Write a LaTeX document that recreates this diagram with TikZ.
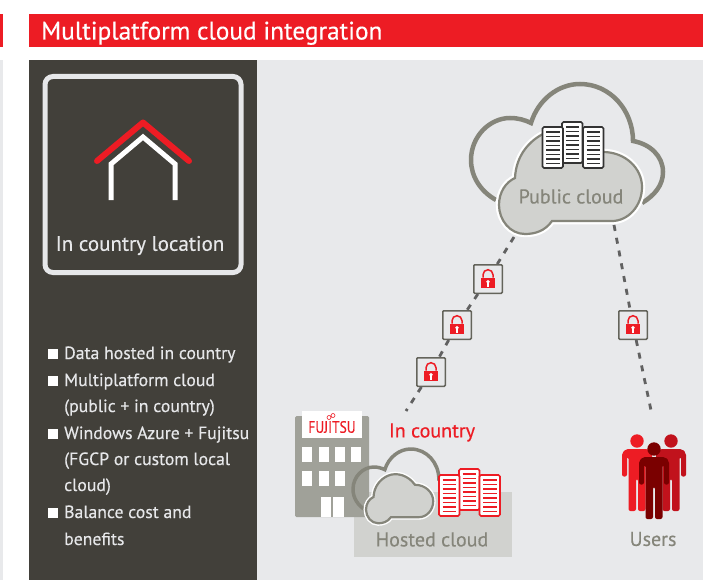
\documentclass[tikz,border=0pt]{standalone}
\usepackage{fontspec}
\setmainfont[FakeBold=0.35]{PT Sans}
\definecolor{fjred}{HTML}{ED1C24}
\definecolor{panel}{HTML}{42403A}
\definecolor{paper}{HTML}{E8E9EB}
\definecolor{stonefill}{HTML}{D1D2CF}
\definecolor{stoneline}{HTML}{85857A}
\definecolor{bldg}{HTML}{A0A199}
\definecolor{pale}{HTML}{E6E7E9}
\definecolor{darkred}{HTML}{7A0000}
\definecolor{midred}{HTML}{C1121C}
\newcommand{\outercloudpath}{(496,200) .. controls (480,191) and (471,176) .. (471,160) .. controls (471,136) and (490,118) .. (510,118) .. controls (518,118) and (525,120) .. (531,123) .. controls (538,100) and (558,84) .. (580,84) .. controls (610,84) and (633,110) .. (633,141) .. controls (650,144) and (663,156) .. (663,172) .. controls (663,185) and (655,195) .. (642,203)}
\newcommand{\innercloudpath}{(515,178) .. controls (516,155) and (530,140) .. (545,133) .. controls (565,124) and (590,133) .. (603,152) .. controls (625,152) and (642,168) .. (642,187) .. controls (642,206) and (628,221) .. (612,221) -- (552,221) .. controls (545,231) and (535,234) .. (525,234) .. controls (510,234) and (499,220) .. (499,205) .. controls (499,192) and (506,182) .. (515,178) -- cycle}
\tikzset{
  x=1pt,y=-1pt,
  label text/.style={inner sep=0pt,font=\fontsize{20}{24}\selectfont},
  bullet text/.style={inner sep=0pt,anchor=base west,text=pale,font=\fontsize{17.7}{22}\selectfont},
  bullet mark/.style={fill=white,draw=none,minimum size=9.5pt,inner sep=0pt},
  lock box/.style={draw=stoneline!75!black,line width=1.5pt,fill=paper,rounded corners=1pt,minimum size=28.5pt,inner sep=0pt},
  dash link/.style={draw=black!62,line width=2.8pt,dash pattern=on 6pt off 7pt},
  outer cloud/.style={draw=stoneline,line width=4.5pt,line cap=butt,fill=none},
  inner halo/.style={draw=white,line width=6.5pt,fill=white},
  inner cloud/.style={draw=stoneline,line width=2.2pt,fill=stonefill},
  lockglyph/.pic={
    \fill[fjred] (-7,-1.3) rectangle (7,9.3);
    \draw[fjred,line width=1.5pt] (-5,-1.3) -- (-5,-4.3) arc (180:360:5) -- (5,-1.3);
    \fill[white] (0,2.8) circle (1.9);
    \fill[white] (-1.2,3) rectangle (1.2,7.5);
  },
  pics/serverpic/.style={code={
    \draw[#1,line width=1.6pt,fill=white,rounded corners=1.5pt] (0,0) rectangle (20.5,41);
    \foreach \yy in {5,9.5,14,18.5,23,27.5,32,36.5}
      \draw[#1,line width=1.4pt] (3.5,\yy) -- (17,\yy);
  }},
  pics/personpic/.style={code={
    \fill[#1] (0,0) circle (6.7);
    \fill[#1,rounded corners=2pt] (-15,35.5) -- (-15,12) -- (-11,8) -- (11,8) -- (15,12) -- (15,35.5) -- (10,35.5) -- (10,16) -- (8.5,16) -- (8.5,70) -- (1,70) -- (1,38) -- (-1,38) -- (-1,70) -- (-8.5,70) -- (-8.5,16) -- (-10,16) -- (-10,35.5) -- cycle;
  }},
}
\begin{document}
\begin{tikzpicture}
\useasboundingbox (0,0) rectangle (703,580);
\fill[white] (0,0) rectangle (703,580);
% bands and panels
\fill[fjred] (0,14) rectangle (3,47);
\fill[paper] (0,60) rectangle (3,580);
\fill[fjred] (29,14) rectangle (703,47);
\fill[panel] (29,60) rectangle (257,580);
\fill[paper] (257,60) rectangle (703,580);
\node[inner sep=0pt,anchor=base west,text=white,font=\fontsize{25.3}{30}\selectfont] (title) at (41,39.5) {Multiplatform cloud integration};
% location card
\draw[pale,line width=5pt,rounded corners=8pt] (45,76.5) rectangle (241,272.5);
\draw[white,line width=5pt,line join=miter] (111,200) -- (111,164) -- (143,137) -- (175,164) -- (175,200);
\draw[fjred,line width=6pt,line cap=round,line join=round] (97,161) -- (143,122.5) -- (189,161);
\node[inner sep=0pt,text=pale,font=\fontsize{21}{25}\selectfont] (loc) at (140,245.5) {In country location};
% bullets
\node[bullet mark] (b1) at (53,354) {};
\node[bullet text] (t1) at (64,359) {Data hosted in country};
\node[bullet mark] (b2) at (53,381) {};
\node[bullet text] (t2) at (64,386) {Multiplatform cloud};
\node[bullet text] (t3) at (64,412) {(public + in country)};
\node[bullet mark] (b3) at (53,434) {};
\node[bullet text] (t4) at (64,439) {Windows Azure + Fujitsu};
\node[bullet text] (t5) at (64,465) {(FGCP or custom local};
\node[bullet text] (t6) at (64,491) {cloud)};
\node[bullet mark] (b4) at (53,513) {};
\node[bullet text] (t7) at (64,518) {Balance cost and};
\node[bullet text] (t8) at (64,545) {benefits};
% public cloud
\draw[outer cloud] \outercloudpath;
\draw[inner halo] \innercloudpath;
\draw[inner cloud] \innercloudpath;
\pic at (562,122) {serverpic=black!80};
\pic at (542.5,127) {serverpic=black!80};
\pic at (583,127) {serverpic=black!80};
\node[label text,text=stoneline] (pub) at (571,196.5) {Public cloud};
% connectors and locks
\coordinate (pubA) at (514,237);
\coordinate (pubB) at (614,225);
\coordinate (hostA) at (406,411);
\coordinate (usersA) at (652,415);
\node[lock box] (lock1) at (488,279) {};
\node[lock box] (lock2) at (457,325) {};
\node[lock box] (lock3) at (431,372) {};
\node[lock box] (lock4) at (633,325) {};
\draw[dash link] (pubA) -- (lock1);
\draw[dash link] (lock1) -- (lock2);
\draw[dash link] (lock2) -- (lock3);
\draw[dash link] (lock3) -- (hostA);
\draw[dash link] (pubB) -- (lock4);
\draw[dash link] (lock4) -- (usersA);
\pic at (lock1) {lockglyph};
\pic at (lock2) {lockglyph};
\pic at (lock3) {lockglyph};
\pic at (lock4) {lockglyph};
% hosted
\fill[stonefill] (354,492) rectangle (512,557);
\fill[bldg,rounded corners=1.5pt] (295,416) rectangle (369,517);
\fill[white] (302,411) rectangle (362,438);
\node[inner sep=0pt,text=fjred,font=\fontsize{16.5}{18}\selectfont\addfontfeature{FakeStretch=.82}] (logo) at (332,427) {FUJITSU};
\draw[fjred,line width=.6pt] (329,417.5) circle (2) (333,415.5) circle (2);
\foreach \xx in {302,319,335,351} \fill[white] (\xx,447) rectangle ++(10,15);
\foreach \xx in {302,319,335} \fill[white] (\xx,471) rectangle ++(10,15);
\fill[white] (321,497) rectangle (344,517);
\fill[bldg] (331,497) rectangle (333,517);
\node[inner sep=0pt,text=fjred,font=\fontsize{20}{24}\selectfont] (incountry) at (432,432.5) {In country};
\begin{scope}[shift={(353,449)},x=.53pt,y=-.53pt]
  \begin{scope}[shift={(-471,-84)}]
    \draw[outer cloud,line width=3.5pt] \outercloudpath;
  \end{scope}
\end{scope}
\begin{scope}[shift={(366,473)},x=.47pt,y=-.47pt]
  \begin{scope}[shift={(-499,-127)}]
    \draw[inner halo,line width=5pt] \innercloudpath;
    \draw[inner cloud] \innercloudpath;
  \end{scope}
\end{scope}
\pic at (459,469) {serverpic=fjred};
\pic at (439,475) {serverpic=fjred};
\pic at (479.5,475) {serverpic=fjred};
\node[label text,text=stoneline] (hosted) at (432,539.5) {Hosted cloud};
% users
\pic at (637,441) {personpic=fjred};
\pic at (671,441) {personpic=midred};
\pic at (654,449) {personpic=darkred};
\node[label text,text=stoneline] (users) at (653,539) {Users};
\end{tikzpicture}
\end{document}
